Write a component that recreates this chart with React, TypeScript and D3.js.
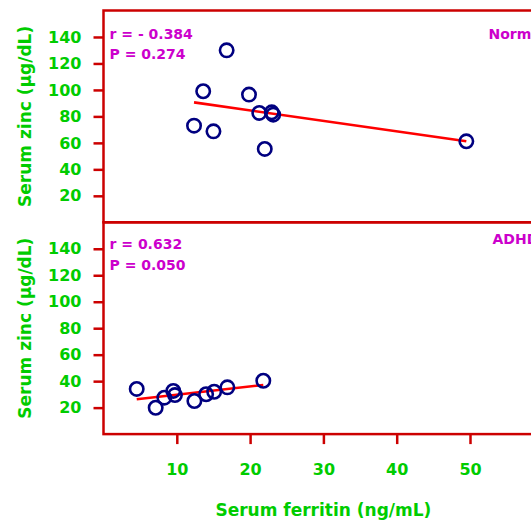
import { useEffect, useRef } from "react";
import * as d3 from "d3";

// Normal group (serum ferritin ng/mL, serum zinc µg/dL)
const normalFerritin = [12.35, 13.6, 15.0, 16.8, 19.85, 21.25, 22.0, 22.95, 23.15, 49.5];
const normalZinc = [73.0, 99.0, 68.7, 129.9, 96.5, 82.6, 55.4, 83.1, 81.3, 61.2];
const normalFit = [90.6, 61.2]; // fitted zinc at min / max ferritin
const normalStats = ["r = - 0.384", "P = 0.274"];

// ADHD group
const adhdFerritin = [4.53, 7.12, 8.3, 9.52, 9.75, 12.4, 14.0, 15.1, 16.9, 21.8];
const adhdZinc = [34.1, 19.9, 27.5, 32.6, 29.5, 25.0, 30.1, 32.0, 35.3, 40.3];
const adhdFit = [26.3, 37.1];
const adhdStats = ["r = 0.632", "P = 0.050"];

const xTicks = [10, 20, 30, 40, 50];
const yTicks = [20, 40, 60, 80, 100, 120, 140];

const W = 531;
const H = 522;
const FONT = "'DejaVu Sans', Verdana, sans-serif";
const GREEN = "#00cc00";
const MAGENTA = "#cc00cc";
const FRAME = "#cc0000";
const NAVY = "#000080";

export default function App() {
  const svgRef = useRef<SVGSVGElement | null>(null);

  useEffect(() => {
    const el = svgRef.current;
    if (!el) return;
    const svg = d3.select(el);
    svg.selectAll("*").remove();

    const m = { left: 103.5, top: 10.5 };
    const ph = 211.8;
    const x = d3.scaleLinear().domain([0, 60]).range([m.left, m.left + 439.8]);

    const panels = [
      { name: "Normal", fx: normalFerritin, fy: normalZinc, fit: normalFit, stats: normalStats, statY: [28.5, 48.5], nameY: 28.5 },
      { name: "ADHD", fx: adhdFerritin, fy: adhdZinc, fit: adhdFit, stats: adhdStats, statY: [26.5, 47.5], nameY: 21.5 },
    ];

    panels.forEach((p, i) => {
      const top = m.top + i * ph;
      const y = d3.scaleLinear().domain([0, 160]).range([top + ph, top]);
      const g = svg.append("g");

      // frame
      g.append("rect")
        .attr("x", x(0)).attr("y", y(160))
        .attr("width", x(60) - x(0)).attr("height", y(0) - y(160))
        .attr("fill", "none").attr("stroke", FRAME).attr("stroke-width", 2.5);

      // y axis
      g.append("g")
        .attr("transform", `translate(${x(0)},0)`)
        .call(d3.axisLeft(y).tickValues(yTicks).tickSize(10).tickPadding(12))
        .call(ax => ax.select(".domain").remove())
        .call(ax => ax.selectAll("line").attr("stroke", FRAME).attr("stroke-width", 2.5))
        .call(ax => ax.selectAll("text").attr("fill", GREEN).attr("font-size", 16)
          .attr("font-weight", "bold").attr("font-family", FONT));

      g.append("text")
        .attr("transform", `translate(24.5,${top + ph / 2}) rotate(-90)`)
        .attr("text-anchor", "middle").attr("dominant-baseline", "central")
        .attr("fill", GREEN).attr("font-size", 17).attr("font-weight", "bold")
        .attr("font-family", FONT)
        .text("Serum zinc (µg/dL)");

      // regression line
      const ext = d3.extent(p.fx) as [number, number];
      const line = d3.line<number>().x((d, k) => x(ext[k])).y(d => y(d));
      g.append("path").datum(p.fit)
        .attr("d", line).attr("fill", "none")
        .attr("stroke", "#ff0000").attr("stroke-width", 2.6);

      // points
      g.selectAll("circle.pt").data(p.fx).join("circle")
        .attr("class", "pt")
        .attr("cx", d => x(d)).attr("cy", (d, k) => y(p.fy[k]))
        .attr("r", 6.7).attr("fill", "none")
        .attr("stroke", NAVY).attr("stroke-width", 2.6);

      // stats
      p.stats.forEach((s, k) => {
        g.append("text")
          .attr("x", 109.5).attr("y", top + p.statY[k])
          .attr("fill", MAGENTA).attr("font-size", 14).attr("font-weight", "bold")
          .attr("font-family", FONT).text(s);
      });
      g.append("text")
        .attr("x", i === 0 ? 488.5 : 492.5).attr("y", top + p.nameY)
        .attr("fill", MAGENTA).attr("font-size", 14).attr("font-weight", "bold")
        .attr("font-family", FONT).text(p.name);

      if (i === 1) {
        g.append("g")
          .attr("transform", `translate(0,${y(0)})`)
          .call(d3.axisBottom(x).tickValues(xTicks).tickSize(10).tickPadding(20))
          .call(ax => ax.select(".domain").remove())
          .call(ax => ax.selectAll("line").attr("stroke", FRAME).attr("stroke-width", 2.5))
          .call(ax => ax.selectAll("text").attr("fill", GREEN).attr("font-size", 16)
            .attr("font-weight", "bold").attr("font-family", FONT));

        g.append("text")
          .attr("x", x(30)).attr("y", 516)
          .attr("text-anchor", "middle")
          .attr("fill", GREEN).attr("font-size", 17).attr("font-weight", "bold")
          .attr("font-family", FONT)
          .text("Serum ferritin (ng/mL)");
      }
    });
  }, []);

  return (
    <div style={{ position: "fixed", left: 0, top: 0, width: W, height: H, overflow: "hidden", background: "#fff" }}>
      <svg ref={svgRef} width={W} height={H} style={{ display: "block" }} />
    </div>
  );
}
